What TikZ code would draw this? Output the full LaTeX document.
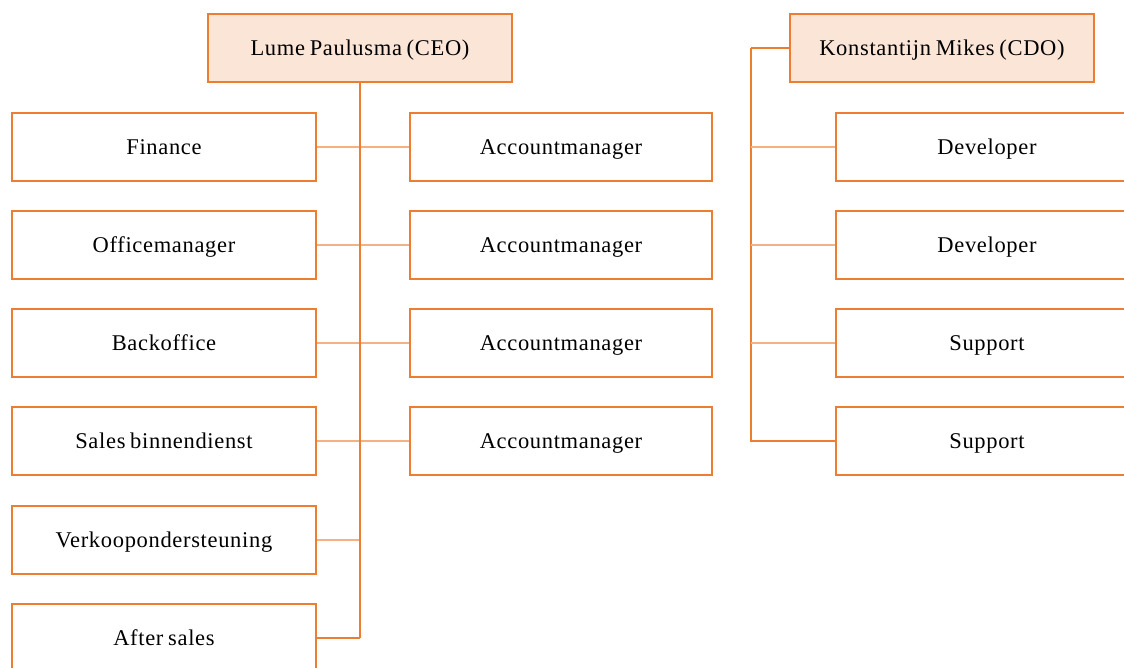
\documentclass[tikz,border=0pt]{standalone}
\usepackage{xcolor}
\usepackage{fontspec}
\setmainfont[LetterSpace=3,WordSpace=0.75]{Liberation Serif}
\usepackage{tikz}

\definecolor{orgline}{HTML}{ED7D31}
\definecolor{orgfill}{HTML}{FBE5D6}
\definecolor{orglink}{HTML}{F4B183}

\tikzset{
  unit/.style={draw=orgline, line width=2pt, fill=white, minimum width=304pt, minimum height=68pt, inner sep=0pt, text height=17pt, text depth=3pt, font=\fontsize{22.5}{26}\selectfont},
  head/.style={unit, fill=orgfill},
  link/.style={draw=orglink, line width=1.3pt},
  trunk/.style={draw=orgline, line width=1.5pt}
}

\begin{document}
\begin{tikzpicture}[x=1pt,y=-1pt]
\useasboundingbox (0,0) rectangle (1124,667);
%Boxes
\draw (360,48) node [head] (ceo) {Lume Paulusma (CEO)};
\draw (942,48) node [head] (cdo) {Konstantijn Mikes (CDO)};
\draw (164,147) node [unit] (fin) {Finance};
\draw (164,245) node [unit] (office) {Officemanager};
\draw (164,343) node [unit] (back) {Backoffice};
\draw (164,441) node [unit] (sales) {Sales binnendienst};
\draw (164,540) node [unit] (verk) {Verkoopondersteuning};
\draw (164,638) node [unit] (after) {After sales};
\draw (561,147) node [unit, minimum width=302pt] (am1) {Accountmanager};
\draw (561,245) node [unit, minimum width=302pt] (am2) {Accountmanager};
\draw (561,343) node [unit, minimum width=302pt] (am3) {Accountmanager};
\draw (561,441) node [unit, minimum width=302pt] (am4) {Accountmanager};
\draw (987,147) node [unit, minimum width=302pt] (dev1) {Developer};
\draw (987,245) node [unit, minimum width=302pt] (dev2) {Developer};
\draw (987,343) node [unit, minimum width=302pt] (sup1) {Support};
\draw (987,441) node [unit, minimum width=302pt] (sup2) {Support};
%Lines
\draw [link] (fin.east) -- (am1.west);
\draw [link] (office.east) -- (am2.west);
\draw [link] (back.east) -- (am3.west);
\draw [link] (sales.east) -- (am4.west);
\draw [link] (verk.east) -- (ceo.south |- verk.east);
\draw [trunk] (after.east) -- (ceo.south |- after.east);
\draw [trunk] (ceo.south) -- (ceo.south |- after.east);
\draw [trunk] (cdo.west) -- ++(-38,0) coordinate (cdotop);
\draw [trunk] (cdotop) -- (cdotop |- sup2.west) -- (sup2.west);
\draw [link] (cdotop |- dev1.west) -- (dev1.west);
\draw [link] (cdotop |- dev2.west) -- (dev2.west);
\draw [link] (cdotop |- sup1.west) -- (sup1.west);
\end{tikzpicture}
\end{document}
